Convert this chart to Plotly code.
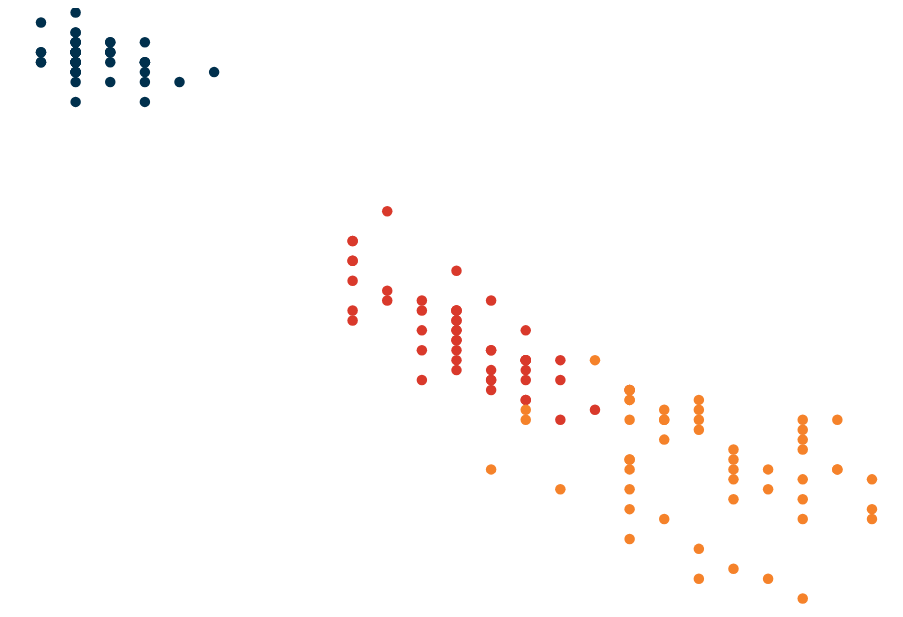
import plotly.graph_objects as go

species = ['setosa', 'versicolor', 'virginica']
colors = ('#00304d', '#d9392b', '#f5822a')

setosa_petal_length = [1.4, 1.4, 1.3, 1.5, 1.4, 1.7, 1.4, 1.5, 1.4, 1.5,
                       1.5, 1.6, 1.4, 1.1, 1.2, 1.5, 1.3, 1.4, 1.7, 1.5,
                       1.7, 1.5, 1.0, 1.7, 1.9, 1.6, 1.6, 1.5, 1.4, 1.6,
                       1.6, 1.5, 1.5, 1.4, 1.5, 1.2, 1.3, 1.4, 1.3, 1.5,
                       1.3, 1.3, 1.3, 1.6, 1.9, 1.4, 1.6, 1.4, 1.5, 1.4]
setosa_petal_width = [0.2, 0.2, 0.2, 0.2, 0.2, 0.4, 0.3, 0.2, 0.2, 0.1,
                      0.2, 0.2, 0.1, 0.1, 0.2, 0.4, 0.4, 0.3, 0.3, 0.3,
                      0.2, 0.4, 0.2, 0.5, 0.2, 0.2, 0.4, 0.2, 0.2, 0.2,
                      0.2, 0.4, 0.1, 0.2, 0.2, 0.2, 0.2, 0.1, 0.2, 0.2,
                      0.3, 0.3, 0.2, 0.6, 0.4, 0.3, 0.2, 0.2, 0.2, 0.2]

versicolor_petal_length = [4.7, 4.5, 4.9, 4.0, 4.6, 4.5, 4.7, 3.3, 4.6, 3.9,
                           3.5, 4.2, 4.0, 4.7, 3.6, 4.4, 4.5, 4.1, 4.5, 3.9,
                           4.8, 4.0, 4.9, 4.7, 4.3, 4.4, 4.8, 5.0, 4.5, 3.5,
                           3.8, 3.7, 3.9, 5.1, 4.5, 4.5, 4.7, 4.4, 4.1, 4.0,
                           4.4, 4.6, 4.0, 3.3, 4.2, 4.2, 4.2, 4.3, 3.0, 4.1]
versicolor_petal_width = [1.4, 1.5, 1.5, 1.3, 1.5, 1.3, 1.6, 1.0, 1.3, 1.4,
                          1.0, 1.5, 1.0, 1.4, 1.3, 1.4, 1.5, 1.0, 1.5, 1.1,
                          1.8, 1.3, 1.5, 1.2, 1.3, 1.4, 1.4, 1.7, 1.5, 1.0,
                          1.1, 1.0, 1.2, 1.6, 1.5, 1.6, 1.5, 1.3, 1.3, 1.3,
                          1.2, 1.4, 1.2, 1.0, 1.3, 1.2, 1.3, 1.3, 1.1, 1.3]

virginica_petal_length = [6.0, 5.1, 5.9, 5.6, 5.8, 6.6, 4.5, 6.3, 5.8, 6.1,
                          5.1, 5.3, 5.5, 5.0, 5.1, 5.3, 5.5, 6.7, 6.9, 5.0,
                          5.7, 4.9, 6.7, 4.9, 5.7, 6.0, 4.8, 4.9, 5.6, 5.8,
                          6.1, 6.4, 5.6, 5.1, 5.6, 6.1, 5.6, 5.5, 4.8, 5.4,
                          5.6, 5.1, 5.1, 5.9, 5.7, 5.2, 5.0, 5.2, 5.4, 5.1]
virginica_petal_width = [2.5, 1.9, 2.1, 1.8, 2.2, 2.1, 1.7, 1.8, 1.8, 2.5,
                         2.0, 1.9, 2.1, 2.0, 2.4, 2.3, 1.8, 2.2, 2.3, 1.5,
                         2.3, 2.0, 2.0, 1.8, 2.1, 1.8, 1.8, 1.8, 2.1, 1.6,
                         1.9, 2.0, 2.2, 1.5, 1.4, 2.3, 2.4, 1.8, 1.8, 2.1,
                         2.4, 2.3, 1.9, 2.3, 2.5, 2.3, 1.9, 2.0, 2.3, 1.8]

series = [
  (setosa_petal_width, setosa_petal_length),
  (versicolor_petal_width, versicolor_petal_length),
  (virginica_petal_width, virginica_petal_length),
]

data = []
for i, (widths, lengths) in enumerate(series):
  data.append(
    go.Scatter(
      name=species[i],
      x=widths,
      y=lengths,
      mode='markers',
      marker=dict(color=colors[i], size=10.5, line=dict(width=0)),
    )
  )

fig = go.Figure(data=data)

# page body adds ~8px offset, so ranges are nudged to line up with the reference
fig.update_layout(
  width=903,
  height=617,
  margin=dict(l=0, r=0, t=0, b=0),
  paper_bgcolor='white',
  plot_bgcolor='white',
  showlegend=False,
)
fig.update_xaxes(range=[0.0047, 2.6127], visible=False)
fig.update_yaxes(range=[7.1665, 0.9545], visible=False)

fig.write_html("out.html")
